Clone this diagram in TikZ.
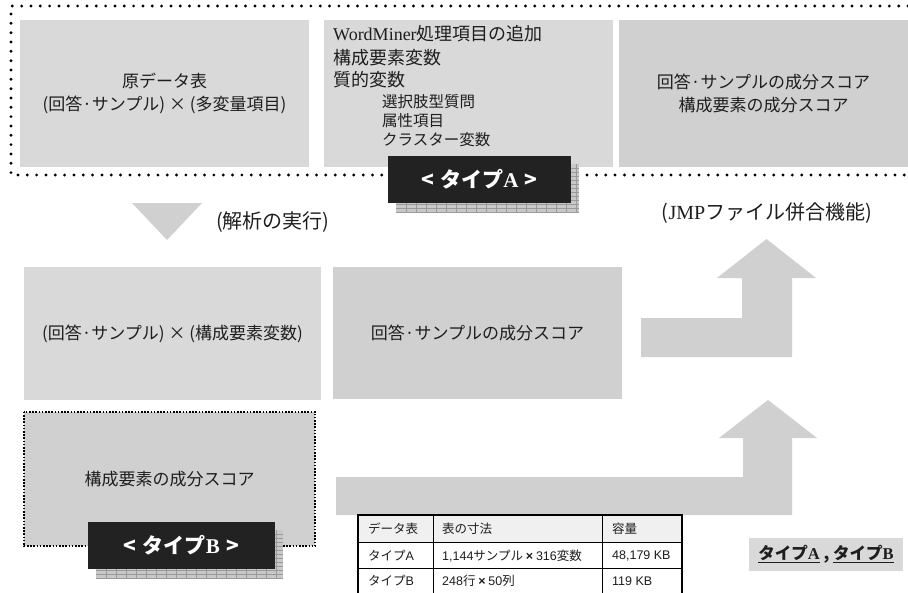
\documentclass[tikz,border=0pt]{standalone}
\usepackage{fontspec}
\setmainfont{Noto Sans CJK JP}
\newfontfamily\ser{Liberation Serif}
\newfontfamily\ars{Liberation Sans}
\definecolor{boxA}{HTML}{D9D9D9}
\definecolor{boxB}{HTML}{D0D0D0}
\definecolor{txt}{HTML}{1E1E1E}
\definecolor{lblblack}{HTML}{222222}
\definecolor{shadowfill}{HTML}{C8C8C8}
\definecolor{shadowgrid}{HTML}{9A9A9A}
\definecolor{hdr}{HTML}{F0F0F0}
\tikzset{
  gbox/.style={draw=none, inner sep=0pt, text=txt, align=center, font=\fontsize{17}{23}\selectfont},
  wmline/.style={inner sep=0pt, anchor=west, text=txt, font=\fontsize{18}{22}\selectfont},
  wmsub/.style={inner sep=0pt, anchor=west, text=txt, font=\fontsize{15.5}{20}\selectfont},
  bigdots/.style={line width=3.2pt, line cap=round, dash pattern=on 0pt off 9.33pt},
  smalldots/.style={line width=2pt, dash pattern=on 1.6pt off 1.6pt},
  typelbl/.style={fill=lblblack, text=white, inner sep=0pt, font=\fontsize{21}{24}\selectfont\bfseries},
  note/.style={inner sep=0pt, text=txt, font=\fontsize{20}{24}\selectfont},
  bigarrow/.style={fill=boxB, draw=none},
  cell/.style={inner sep=0pt, anchor=west, text=txt, font=\fontsize{12.5}{14}\selectfont},
}
\begin{document}
\begin{tikzpicture}[x=1pt,y=-1pt]
\useasboundingbox (0,0) rectangle (908,592);

% ---------- top group (type A) ----------
\node[gbox, fill=boxA, minimum width=289pt, minimum height=147pt] (orig) at (164.5,93.5)
  {原データ表\\(回答·サンプル) × (多変量項目)};
\node[gbox, fill=boxA, minimum width=289pt, minimum height=147pt] (wm) at (468.5,93.5) {};
\node[wmline] (w1) at (333,34) {{\ser WordMiner}処理項目の追加};
\node[wmline] (w2) at (333,57.5) {構成要素変数};
\node[wmline] (w3) at (333,79.5) {質的変数};
\node[wmsub] (w4) at (382,101.5) {選択肢型質問};
\node[wmsub] (w5) at (382,121) {属性項目};
\node[wmsub] (w6) at (382,140) {クラスター変数};
\node[gbox, fill=boxB, minimum width=289pt, minimum height=147pt] (score) at (763.5,93.5)
  {回答·サンプルの成分スコア\\構成要素の成分スコア};

\draw[bigdots] (908,6) -- (11,6) -- (11,175) -- (908,175);

% type A label with shadow
\fill[shadowfill] (396,164) rectangle (579,212);
\foreach \xx in {406,416,...,576} \draw[shadowgrid, line width=0.4pt] (\xx,164) -- (\xx,212);
\foreach \yy in {168,172,...,212} \draw[shadowgrid, line width=0.4pt] (396,\yy) -- (579,\yy);
\node[typelbl, minimum width=183pt, minimum height=47pt] (typeA) at (479.5,179.5)
  {<\hspace{0.3em}タイプ{\ser\bfseries A}\hspace{0.3em}>};

% ---------- analysis step ----------
\fill[boxB] (132,203) -- (202,203) -- (167,240) -- cycle;
\node[note, anchor=west] (exec) at (216,222) {(解析の実行)};
\node[note] (jmp) at (767,213) {({\ser JMP}ファイル併合機能)};

% upper bent arrow
\fill[bigarrow] (641,318) -- (742,318) -- (742,278) -- (717,278) -- (766.5,239)
  -- (816,278) -- (792,278) -- (792,357) -- (641,357) -- cycle;

% ---------- middle row ----------
\node[gbox, fill=boxA, minimum width=297pt, minimum height=133pt] (mat) at (172.5,333.5)
  {(回答·サンプル) × (構成要素変数)};
\node[gbox, fill=boxB, minimum width=289pt, minimum height=132pt] (rscore) at (477.5,333)
  {回答·サンプルの成分スコア};

% lower bent arrow
\fill[bigarrow] (336,477) -- (743,477) -- (743,438) -- (719,438) -- (768,400)
  -- (817,438) -- (792,438) -- (792,515) -- (336,515) -- cycle;

% ---------- type B ----------
\node[gbox, fill=boxB, minimum width=291pt, minimum height=134pt] (cscore) at (169.5,479)
  {構成要素の成分スコア};
\draw[smalldots] (cscore.north west) rectangle (cscore.south east);

\fill[shadowfill] (96,530) rectangle (283,578);
\foreach \xx in {106,116,...,276} \draw[shadowgrid, line width=0.4pt] (\xx,530) -- (\xx,578);
\foreach \yy in {534,538,...,578} \draw[shadowgrid, line width=0.4pt] (96,\yy) -- (283,\yy);
\node[typelbl, minimum width=187pt, minimum height=47pt] (typeB) at (181.5,545.5)
  {<\hspace{0.3em}タイプ{\ser\bfseries B}\hspace{0.3em}>};

% ---------- table ----------
\fill[hdr] (358,515) rectangle (682,542);
\fill[white] (358,542) rectangle (682,594);
\draw[line width=1pt] (358,542) -- (682,542);
\draw[line width=1pt] (358,568) -- (682,568);
\draw[line width=1pt] (433,515) -- (433,594);
\draw[line width=1pt] (602,515) -- (602,594);
\draw[line width=2pt] (358,594) -- (358,515) -- (682,515) -- (682,594);
\node[cell] (h1) at (368,529) {データ表};
\node[cell] (h2) at (442,529) {表の寸法};
\node[cell] (h3) at (612,529) {容量};
\node[cell] (a1) at (368,556) {タイプ{\ars A}};
\node[cell] (a2) at (442,556) {{\ars 1,144}サンプル {\ars\bfseries ×} {\ars 316}変数};
\node[cell] (a3) at (612,556) {\ars 48,179 KB};
\node[cell] (b1) at (368,581) {タイプ{\ars B}};
\node[cell] (b2) at (442,581) {{\ars 248}行 {\ars\bfseries ×} {\ars 50}列};
\node[cell] (b3) at (612,581) {\ars 119 KB};

% ---------- bottom-right label ----------
\node[fill=boxA, inner sep=0pt, minimum width=154pt, minimum height=33pt, text=txt,
  font=\fontsize{16.5}{18}\selectfont\bfseries] (ab) at (826,554.5)
  {\underline{タイプ{\ser\bfseries A}} , \underline{タイプ{\ser\bfseries B}}};
\end{tikzpicture}
\end{document}
